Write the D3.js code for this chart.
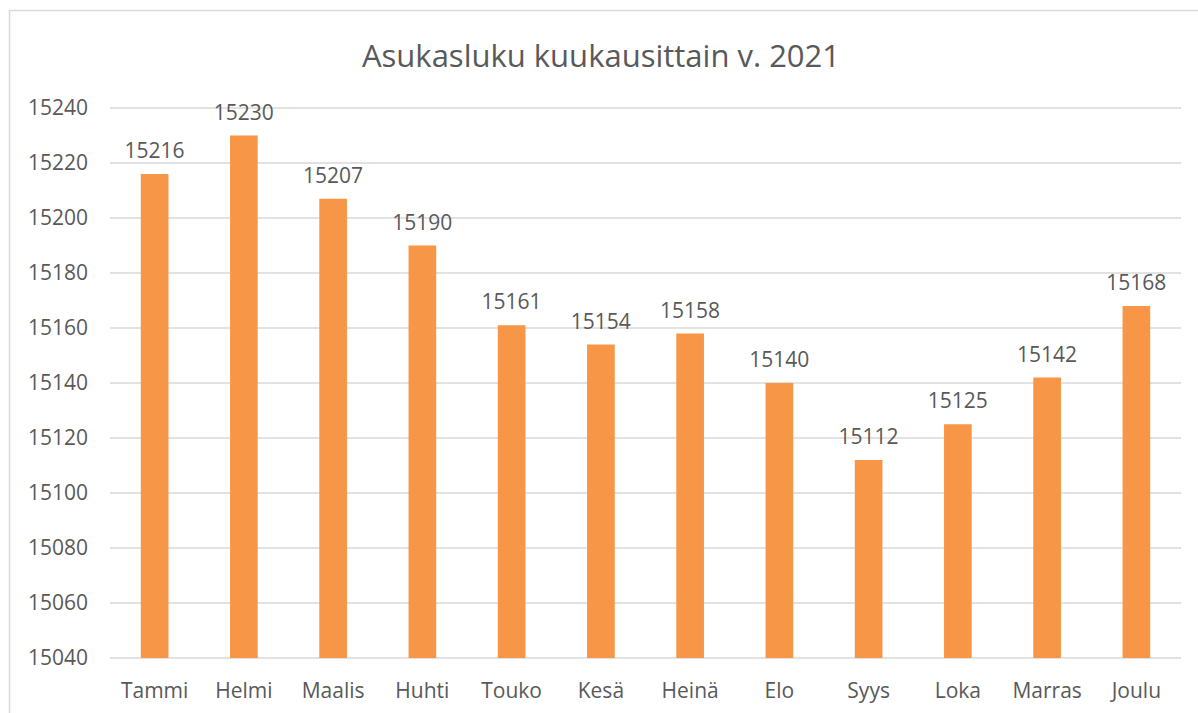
<!DOCTYPE html>
<html>
<head>
<meta charset="utf-8">
<script src="https://cdn.jsdelivr.net/npm/d3@7"></script>
<style>
  body { margin: 0; background: #fff; }
  text { font-family: "Open Sans", "DejaVu Sans", sans-serif; fill: #595959; }
</style>
</head>
<body>
<div id="chart"></div>
<script>
// kuukaudet ja asukasluvut
var months = ["Tammi", "Helmi", "Maalis", "Huhti", "Touko", "Kesä", "Heinä", "Elo", "Syys", "Loka", "Marras", "Joulu"];
var population = [15216, 15230, 15207, 15190, 15161, 15154, 15158, 15140, 15112, 15125, 15142, 15168];
var yTicks = [15040, 15060, 15080, 15100, 15120, 15140, 15160, 15180, 15200, 15220, 15240];
var title = "Asukasluku kuukausittain v. 2021";

var w = 1198, h = 713;
var margin = {top: 108, right: 17, bottom: 55, left: 110};

var svg = d3.select("#chart").append("svg")
    .attr("width", w)
    .attr("height", h);

// chart frame
svg.append("rect")
    .attr("x", 9.5).attr("y", 10.5)
    .attr("width", 1200).attr("height", 720)
    .attr("fill", "none")
    .attr("stroke", "#d9d9d9")
    .attr("stroke-width", 1.5);

var x = d3.scaleBand()
    .domain(months)
    .range([margin.left, w - margin.right])
    .paddingInner(0.69)
    .paddingOuter(0.345);

var y = d3.scaleLinear()
    .domain([15040, 15240])
    .range([h - margin.bottom, margin.top]);

// gridlines
svg.append("g")
    .selectAll("line")
    .data(yTicks)
    .enter()
    .append("line")
    .attr("x1", margin.left)
    .attr("x2", w - margin.right)
    .attr("y1", function (d) { return y(d); })
    .attr("y2", function (d) { return y(d); })
    .attr("stroke", "#d9d9d9")
    .attr("stroke-width", 1.5);

// y axis labels
var yAxis = d3.axisLeft(y).tickValues(yTicks).tickSize(0).tickPadding(22).tickFormat(d3.format("d"));
var gy = svg.append("g")
    .attr("transform", "translate(" + margin.left + ",0)")
    .call(yAxis);
gy.select(".domain").remove();
gy.selectAll("text").style("font-size", "21px").attr("fill", "#595959").style("font-family", null);

// x axis labels
var xAxis = d3.axisBottom(x).tickSize(0).tickPadding(25);
var gx = svg.append("g")
    .attr("transform", "translate(0," + (h - margin.bottom) + ")")
    .call(xAxis);
gx.select(".domain").remove();
gx.selectAll("text").style("font-size", "21px").attr("fill", "#595959").style("font-family", null);

// bars
svg.append("g")
    .selectAll("rect")
    .data(population)
    .enter()
    .append("rect")
    .attr("x", function (d, i) { return x(months[i]); })
    .attr("y", function (d) { return y(d); })
    .attr("width", x.bandwidth())
    .attr("height", function (d) { return y(15040) - y(d); })
    .attr("fill", "#f79646");

// value labels
svg.append("g")
    .selectAll("text")
    .data(population)
    .enter()
    .append("text")
    .attr("x", function (d, i) { return x(months[i]) + x.bandwidth() / 2; })
    .attr("y", function (d) { return y(d) - 16; })
    .attr("text-anchor", "middle")
    .style("font-size", "21px")
    .text(function (d) { return d; });

svg.append("text")
    .attr("x", 601)
    .attr("y", 67)
    .attr("text-anchor", "middle")
    .style("font-size", "31px")
    .text(title);
</script>
</body>
</html>
